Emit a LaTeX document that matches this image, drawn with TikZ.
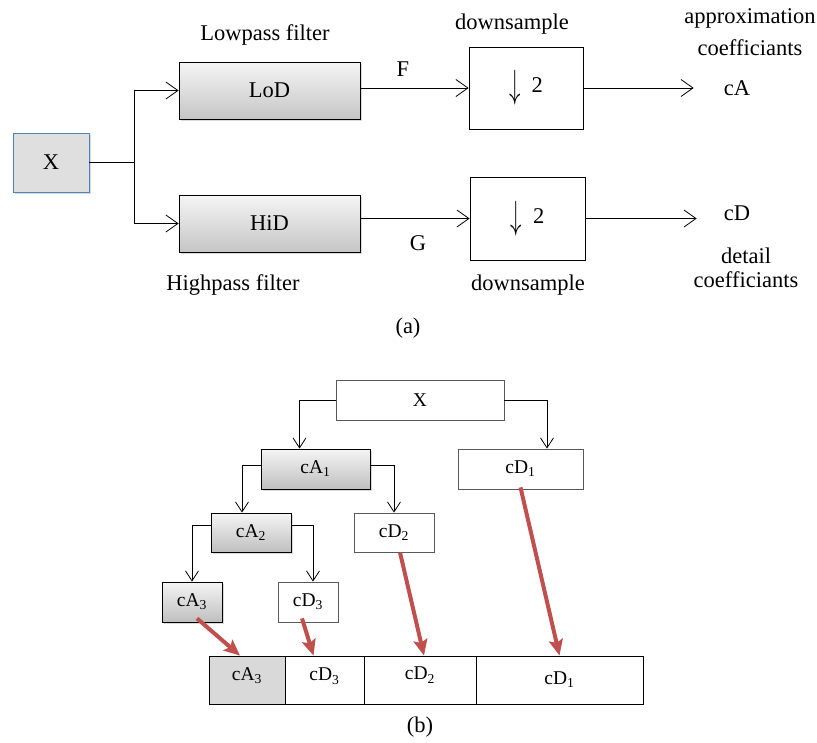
\documentclass[tikz,border=0pt]{standalone}
\usepackage{fontspec}
\setmainfont{Liberation Serif}
\usetikzlibrary{arrows.meta,shadows}
\definecolor{boxblue}{RGB}{79,129,189}
\definecolor{mapred}{RGB}{192,80,77}
\newcommand{\dsarrow}{\raisebox{-5pt}{\scalebox{1.1}[1.9]{$\downarrow$}}}
\begin{document}
\begin{tikzpicture}[x=1pt,y=-1pt,
	every node/.style={font=\fontsize{22.5}{26}\selectfont},
	filterbox/.style={draw,thick,top color=gray!8,bottom color=gray!45,
		drop shadow={opacity=0.3,shadow xshift=2pt,shadow yshift=-2pt}},
	dsbox/.style={draw,thick,fill=white},
	arr/.style={-{Straight Barb[length=12pt,width=17pt]},thick},
	tarr/.style={-{Straight Barb[length=10pt,width=13pt]},thick},
	treebox/.style={draw=black!65,thick,fill=white,font=\fontsize{19.5}{23}\selectfont},
	treegray/.style={draw,thick,top color=gray!8,bottom color=gray!50,
		font=\fontsize{19.5}{23}\selectfont,
		drop shadow={opacity=0.3,shadow xshift=2pt,shadow yshift=-2pt}},
	cell/.style={draw,thick,minimum height=48pt,inner sep=0pt,font=\fontsize{19.5}{23}\selectfont},
	redarr/.style={-{Stealth[length=16pt,width=14pt,inset=3pt]},line width=4pt,mapred}]
	\useasboundingbox (0,0) rectangle (817,742);
	
	% (a) one level of the decomposition
	\node[draw=boxblue,thick,fill=gray!25,minimum width=76pt,minimum height=59pt,
		drop shadow={opacity=0.3,shadow xshift=2pt,shadow yshift=-2pt}] (X) at (51,162.5) {X};
	\node[filterbox,minimum width=181pt,minimum height=57pt] (lod) at (269.5,90.5) {LoD};
	\node[filterbox,minimum width=181pt,minimum height=57pt] (hid) at (269.5,223.5) {HiD};
	\node[dsbox,minimum width=114pt,minimum height=82pt] (ds1) at (526,88) {\dsarrow\ \ 2};
	\node[dsbox,minimum width=115pt,minimum height=83pt] (ds2) at (527.5,218.5) {\dsarrow\ \ 2};
	\node[inner sep=0pt] (cA) at (737,88) {cA};
	\node[inner sep=0pt] (cD) at (737,213) {cD};
	
	\node (lowtxt) at (265,35) {Lowpass filter};
	\node (hightxt) at (233,285) {Highpass filter};
	\node (dstxt1) at (512,24) {downsample};
	\node (dstxt2) at (528,285) {downsample};
	\node[align=center] (apptxt) at (750,32) {approximation\\[6pt]coefficiants};
	\node[align=center] (dettxt) at (746,268) {detail\\[-2pt]coefficiants};
	\node (F) at (403,69) {F};
	\node (G) at (418,243) {G};
	\node (capa) at (408,328) {(a)};
	
	\draw[arr] (X.east) -- ++(45,0) |- (lod.west);
	\draw[arr] (X.east) -- ++(45,0) |- (hid.west);
	\draw[arr] (lod.east |- ds1) -- (ds1.west);
	\draw[arr] (hid.east |- ds2) -- (ds2.west);
	\draw[arr,shorten >=30pt] (ds1.east) -- (cA.west);
	\draw[arr,shorten >=27pt] (ds2.east) -- (ds2.east -| cA.west);
	
	% (b) three levels and the coefficient vector
	\node[treebox,minimum width=168pt,minimum height=40pt] (bX) at (420,400) {X};
	\node[treegray,minimum width=109pt,minimum height=40pt] (cA1) at (315.5,469) {cA\textsubscript{1}};
	\node[treebox,minimum width=125pt,minimum height=40pt] (cD1) at (520.5,469) {cD\textsubscript{1}};
	\node[treegray,minimum width=80pt,minimum height=39pt] (cA2) at (251,532.5) {cA\textsubscript{2}};
	\node[treebox,minimum width=80pt,minimum height=39pt] (cD2) at (394,532.5) {cD\textsubscript{2}};
	\node[treegray,minimum width=60pt,minimum height=40pt] (cA3) at (192,602) {cA\textsubscript{3}};
	\node[treebox,minimum width=60pt,minimum height=40pt] (cD3) at (308,602) {cD\textsubscript{3}};
	
	\node[cell,fill=gray!30,minimum width=76pt] (c1) at (247,680) {\raisebox{12pt}{cA\textsubscript{3}}};
	\node[cell,minimum width=79pt] (c2) at (324.5,680) {\raisebox{11pt}{cD\textsubscript{3}}};
	\node[cell,minimum width=112pt] (c3) at (420,680) {\raisebox{13pt}{cD\textsubscript{2}}};
	\node[cell,minimum width=167pt] (c4) at (559.5,680) {cD\textsubscript{1}};
	\node (capb) at (420,727) {(b)};
	
	\draw[tarr] (bX.west) -| ([xshift=-16pt]cA1.north);
	\draw[tarr] (bX.east) -| ([xshift=26.5pt]cD1.north);
	\draw[tarr] ([yshift=4pt]cA1.west) -| ([xshift=-9pt]cA2.north);
	\draw[tarr] ([yshift=4pt]cA1.east) -| (cD2.north);
	\draw[tarr] ([yshift=7pt]cA2.west) -| (cA3.north);
	\draw[tarr] ([yshift=7pt]cA2.east) -| ([xshift=5pt]cD3.north);
	
	\draw[redarr] ([xshift=5pt,yshift=4pt]cA3.south) -- ([xshift=-7pt]c1.north);
	\draw[redarr] ([xshift=-6pt,yshift=4pt]cD3.south) -- ([xshift=-11pt]c2.north);
	\draw[redarr] ([xshift=6pt]cD2.south) -- ([xshift=4pt]c3.north);
	\draw[redarr] ([yshift=2pt]cD1.south) -- (c4.north);
\end{tikzpicture}
\end{document}
